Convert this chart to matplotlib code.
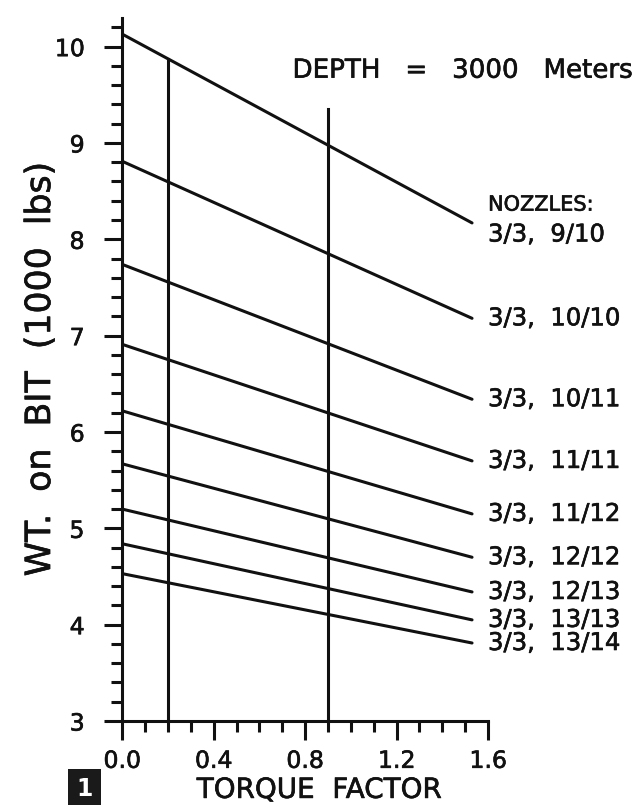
import matplotlib
matplotlib.use("Agg")
import matplotlib.pyplot as plt
import matplotlib.patheffects as pe
from matplotlib.ticker import MultipleLocator

plt.rcParams['font.family'] = ['DejaVu Sans']

# Weight on bit vs. torque factor for each nozzle combination
nozzle_labels = ["3/3,  9/10", "3/3,  10/10", "3/3,  10/11", "3/3,  11/11",
                 "3/3,  11/12", "3/3,  12/12", "3/3,  12/13", "3/3,  13/13",
                 "3/3,  13/14"]
torque_range = [0.0, 1.53]
wob_start = [10.13, 8.81, 7.74, 6.91, 6.22, 5.67, 5.20, 4.84, 4.53]
wob_end = [8.17, 7.18, 6.34, 5.70, 5.15, 4.70, 4.34, 4.05, 3.81]

# Vertical reference lines (torque factor, top of line)
marker_x = [0.2, 0.9]
marker_top = [9.87, 9.35]

x_ticks = [0.0, 0.4, 0.8, 1.2, 1.6]
y_ticks = [3, 4, 5, 6, 7, 8, 9, 10]

ink = '#111111'
heavy = [pe.withStroke(linewidth=0.45, foreground=ink)]

fig = plt.figure(figsize=(6.43, 8.05), dpi=100)
ax = fig.add_axes([0.19, 0.1043, 0.569, 0.8737])

lw = 2.2
for y0, y1 in zip(wob_start, wob_end):
    ax.plot(torque_range, [y0, y1], color=ink, lw=lw, solid_capstyle='round')

for xm, top in zip(marker_x, marker_top):
    ax.plot([xm, xm], [3, top], color=ink, lw=lw)

# Curve labels at the right-hand ends
label_x = torque_range[1] + 0.07
for i, (lab, y1) in enumerate(zip(nozzle_labels, wob_end)):
    if i == 0:
        ax.text(label_x, y1 + 0.19, "NOZZLES:", fontsize=15, color=ink,
                ha='left', va='center', clip_on=False, path_effects=heavy)
        ax.text(label_x, y1 - 0.12, lab, fontsize=17.5, color=ink,
                ha='left', va='center', clip_on=False, path_effects=heavy)
    else:
        ax.text(label_x, y1, lab, fontsize=17.5, color=ink,
                ha='left', va='center', clip_on=False, path_effects=heavy)

ax.text(0.745, 9.75, "DEPTH   =   3000   Meters", fontsize=18.8, color=ink,
        ha='left', va='center', path_effects=heavy)

ax.set_xlim(0, 1.6)
ax.set_ylim(3, 10.3)
ax.set_xticks(x_ticks)
ax.set_xticklabels([f"{v:.1f}" for v in x_ticks])
ax.set_yticks(y_ticks)
ax.xaxis.set_minor_locator(MultipleLocator(0.1))
ax.yaxis.set_minor_locator(MultipleLocator(0.2))

for side in ('top', 'right'):
    ax.spines[side].set_visible(False)
for side in ('left', 'bottom'):
    ax.spines[side].set_linewidth(lw)
    ax.spines[side].set_color(ink)

ax.tick_params(axis='both', which='major', direction='out', width=lw,
               labelsize=17, color=ink, labelcolor=ink)
ax.tick_params(axis='y', which='major', length=13, pad=14)
ax.tick_params(axis='y', which='minor', direction='out', length=8, width=lw,
               color=ink)
ax.tick_params(axis='x', which='major', length=14, pad=6)
ax.tick_params(axis='x', which='minor', direction='out', length=8, width=lw,
               color=ink)
for t in ax.get_xticklabels() + ax.get_yticklabels():
    t.set_path_effects(heavy)

ax.set_xlabel("TORQUE  FACTOR", fontsize=20, color=ink, path_effects=heavy)
ax.xaxis.set_label_coords(0.538, -0.078)
ax.set_ylabel("WT.  on  BIT  (1000  lbs)", fontsize=25, color=ink,
              path_effects=heavy)
ax.yaxis.set_label_coords(-0.178, 0.5)

fig.text(0.132, 0.02, "1", color='white', fontsize=17, fontweight='bold',
         ha='center', va='center',
         bbox=dict(boxstyle='square,pad=0.35', fc='#1a1a1a', ec='none'))

fig.savefig("out.png", dpi=100)
